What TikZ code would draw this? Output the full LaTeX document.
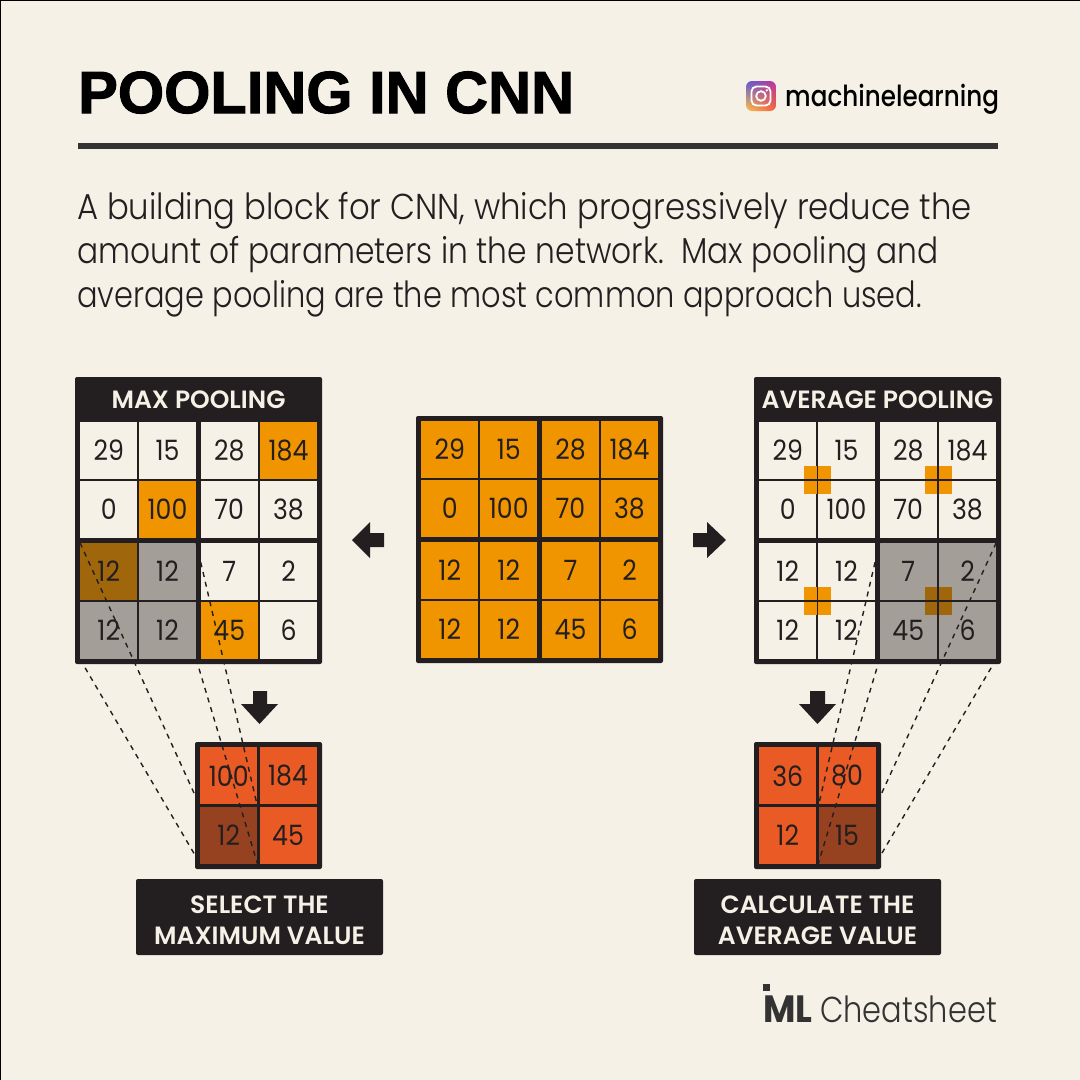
\documentclass[tikz,border=0pt]{standalone}
\usepackage{graphicx}
\usepackage{fontspec}
\usetikzlibrary{shadings}
\setmainfont[FakeStretch=0.9,UprightFont=* Light]{Poppins}
\newfontfamily\titlefont[FakeBold=1.7]{Liberation Sans Bold}
\newfontfamily\cellfont[FakeStretch=0.9]{Poppins}
\newfontfamily\headfont[FakeStretch=0.85,UprightFont=* Medium]{Poppins}
\newfontfamily\bannerfont[FakeStretch=1.0,UprightFont=* SemiBold]{Poppins}
\newfontfamily\brandfont[FakeStretch=0.93,UprightFont=* Bold]{Poppins}

\definecolor{paper}{HTML}{F5F1E7}
\definecolor{ink}{HTML}{231F20}
\definecolor{rulegray}{HTML}{333333}
\definecolor{amber}{HTML}{F09400}
\definecolor{stone}{HTML}{A39E97}
\definecolor{umber}{HTML}{9F660C}
\definecolor{flame}{HTML}{E95A24}
\definecolor{rust}{HTML}{964120}
\definecolor{igblue}{HTML}{5B5AD6}
\definecolor{igpink}{HTML}{C1359A}
\definecolor{igyellow}{HTML}{FDC24A}
\definecolor{igred}{HTML}{F5603A}

\tikzset{
    frame/.style={fill=ink,rounded corners=2pt,inner sep=0pt},
    cell/.style={inner sep=0pt,minimum size=57pt,text=ink,font=\cellfont\fontsize{28}{28}\selectfont},
    plain/.style={cell,fill=paper},
    hot/.style={cell,fill=amber},
    grey/.style={cell,fill=stone},
    dim/.style={cell,fill=umber},
    result/.style={cell,fill=flame},
    resultdim/.style={cell,fill=rust},
    patch/.style={minimum width=27pt,minimum height=28pt,inner sep=0pt},
    seam/.style={ink,line width=1.8pt},
    link/.style={ink,line width=1.4pt,dash pattern=on 5pt off 5pt},
    banner/.style={text=paper,font=\bannerfont\fontsize{25}{31}\selectfont,align=center},
    notebox/.style={frame,minimum width=247pt,minimum height=76pt}
}

\begin{document}
\begin{tikzpicture}[x=1pt,y=-1pt]

    \fill[paper] (0,0) rectangle (1080,1080);
    \useasboundingbox (0,0) rectangle (1080,1080);
    \draw[black,line width=2pt] (0,1080) -- (0,0) -- (1080,0);

    %header
    \node[anchor=base west,inner sep=0pt,font=\titlefont\fontsize{59.5}{59.5}\selectfont] (title) at (78,113) {POOLING IN CNN};
    \fill[rulegray] (78,143) rectangle (998,149);
    \node[anchor=base west,inner sep=0pt,text=black,font=\headfont\fontsize{29}{29}\selectfont] (handle) at (785,106) {machinelearning};

    %icon
    \begin{scope}
        \clip[rounded corners=6pt] (746,81) rectangle (776,111);
        \shade[upper left=igblue,upper right=igpink,lower left=igyellow,lower right=igred] (746,81) rectangle (776,111);
    \end{scope}
    \draw[white,line width=1.8pt,rounded corners=5pt] (751.5,86.5) rectangle (770.5,105.5);
    \draw[white,line width=1.8pt] (761,96) circle (4.8);
    \fill[white] (766.8,90.3) circle (1.3);

    %text
    \node[anchor=base west,inner sep=0pt,align=left,text=ink,font=\fontsize{36}{44}\selectfont] (blurb) at (77,307) {\scalebox{.997}[1]{A building block for CNN, which progressively reduce the}\\\scalebox{.966}[1]{amount of parameters in the network.\ \ Max pooling and}\\\scalebox{.939}[1]{average pooling are the most common approach used.}};

    %max grid
    \node[frame,minimum width=247pt,minimum height=287pt] (maxframe) at (198.5,520.5) {};
    \node[banner] (maxhead) at (198.5,400) {MAX POOLING};
    \node[plain] (m11) at (108.75,450.5) {29};
    \node[plain] (m12) at (167.5,450.5) {15};
    \node[plain] (m13) at (229.25,450.5) {28};
    \node[hot] (m14) at (288.5,450.5) {184};
    \node[plain] (m21) at (108.75,509.5) {0};
    \node[hot] (m22) at (167.5,509.5) {100};
    \node[plain] (m23) at (229.25,509.5) {70};
    \node[plain] (m24) at (288.5,509.5) {38};
    \node[dim] (m31) at (108.75,571.5) {12};
    \node[grey] (m32) at (167.5,571.5) {12};
    \node[plain] (m33) at (229.25,571.5) {7};
    \node[plain] (m34) at (288.5,571.5) {2};
    \node[grey] (m41) at (108.75,630.5) {12};
    \node[grey] (m42) at (167.5,630.5) {12};
    \node[hot] (m43) at (229.25,630.5) {45};
    \node[plain] (m44) at (288.5,630.5) {6};

    %centre grid
    \node[frame,minimum size=247pt] (midframe) at (539.5,539.5) {};
    \node[hot] (c11) at (449.75,449.5) {29};
    \node[hot] (c12) at (508.75,449.5) {15};
    \node[hot] (c13) at (570.5,449.5) {28};
    \node[hot] (c14) at (629.5,449.5) {184};
    \node[hot] (c21) at (449.75,508.5) {0};
    \node[hot] (c22) at (508.75,508.5) {100};
    \node[hot] (c23) at (570.5,508.5) {70};
    \node[hot] (c24) at (629.5,508.5) {38};
    \node[hot] (c31) at (449.75,570.5) {12};
    \node[hot] (c32) at (508.75,570.5) {12};
    \node[hot] (c33) at (570.5,570.5) {7};
    \node[hot] (c34) at (629.5,570.5) {2};
    \node[hot] (c41) at (449.75,629.5) {12};
    \node[hot] (c42) at (508.75,629.5) {12};
    \node[hot] (c43) at (570.5,629.5) {45};
    \node[hot] (c44) at (629.5,629.5) {6};

    %average grid
    \node[frame,minimum width=247pt,minimum height=287pt] (avgframe) at (877.5,520.5) {};
    \node[banner] (avghead) at (877.5,400) {AVERAGE POOLING};
    \node[plain] (a11) at (787.75,450.5) {29};
    \node[plain] (a12) at (846.5,450.5) {15};
    \node[plain] (a13) at (908.25,450.5) {28};
    \node[plain] (a14) at (967.5,450.5) {184};
    \node[plain] (a21) at (787.75,509.5) {0};
    \node[plain] (a22) at (846.5,509.5) {100};
    \node[plain] (a23) at (908.25,509.5) {70};
    \node[plain] (a24) at (967.5,509.5) {38};
    \node[plain] (a31) at (787.75,571.5) {12};
    \node[plain] (a32) at (846.5,571.5) {12};
    \node[grey] (a33) at (908.25,571.5) {7};
    \node[grey] (a34) at (967.5,571.5) {2};
    \node[plain] (a41) at (787.75,630.5) {12};
    \node[plain] (a42) at (846.5,630.5) {12};
    \node[grey] (a43) at (908.25,630.5) {45};
    \node[grey] (a44) at (967.5,630.5) {6};

    %patches
    \node[patch,fill=amber] (p1) at (817.5,480) {};
    \node[patch,fill=amber] (p2) at (938.5,480) {};
    \node[patch,fill=amber] (p3) at (817.5,601) {};
    \node[patch,fill=umber] (p4) at (938.5,601) {};
    \draw[seam] ([yshift=-1pt]a11.south west) -- ([yshift=-1pt]a12.south east);
    \draw[seam] ([yshift=-1pt]a13.south west) -- ([yshift=-1pt]a14.south east);
    \draw[seam] ([yshift=-1pt]a31.south west) -- ([yshift=-1pt]a32.south east);
    \draw[seam] ([yshift=-1pt]a33.south west) -- ([yshift=-1pt]a34.south east);
    \draw[seam] ([xshift=1pt]a11.north east) -- ([xshift=1pt]a21.south east);
    \draw[seam] ([xshift=1pt]a13.north east) -- ([xshift=1pt]a23.south east);
    \draw[seam] ([xshift=1pt]a31.north east) -- ([xshift=1pt]a41.south east);
    \draw[seam] ([xshift=1pt]a33.north east) -- ([xshift=1pt]a43.south east);

    %small grids
    \node[frame,minimum size=127pt] (maxsmall) at (258.5,805.5) {};
    \node[result] (s11) at (228.75,775.75) {100};
    \node[result] (s12) at (288,775.75) {184};
    \node[resultdim] (s21) at (228.75,835) {12};
    \node[result] (s22) at (288,835) {45};
    \node[frame,minimum size=127pt] (avgsmall) at (817.5,805.5) {};
    \node[result] (t11) at (787.75,775.75) {36};
    \node[result] (t12) at (847,775.75) {80};
    \node[result] (t21) at (787.75,835) {12};
    \node[resultdim] (t22) at (847,835) {15};

    %arrows
    \fill[ink] (352,540) -- (370,522) -- (370,533) -- (384,533) -- (384,547) -- (370,547) -- (370,558) -- cycle;
    \fill[ink] (726,540) -- (707,522) -- (707,533) -- (693,533) -- (693,547) -- (707,547) -- (707,558) -- cycle;
    \fill[ink] (259.5,724) -- (241,704) -- (253,704) -- (253,691) -- (267,691) -- (267,704) -- (278,704) -- cycle;
    \fill[ink] (817.5,724) -- (799,704) -- (810,704) -- (810,691) -- (825,691) -- (825,704) -- (836,704) -- cycle;

    %links
    \draw[link] (m31.north west) -- (s21.north west);
    \draw[link] (m41.south west) -- (s21.south west);
    \draw[link] (m32.north east) -- (s21.north east);
    \draw[link] (m42.south east) -- (s21.south east);
    \draw[link] (a33.north west) -- (t22.north west);
    \draw[link] (a43.south west) -- (t22.south west);
    \draw[link] (a34.north east) -- (t22.north east);
    \draw[link] (a44.south east) -- (t22.south east);

    %notes
    \node[notebox] (maxbox) at (259.5,917) {};
    \node[banner] (maxnote) at (259.5,920) {SELECT THE\\MAXIMUM VALUE};
    \node[notebox] (avgbox) at (817.5,917) {};
    \node[banner] (avgnote) at (817.5,920) {CALCULATE THE\\AVERAGE VALUE};

    %brand
    \fill[rulegray] (763,984) rectangle (770,991);
    \node[anchor=base west,inner sep=0pt,text=rulegray,font=\brandfont\fontsize{38}{38}\selectfont] (mlmark) at (763,1022) {ML};
    \node[anchor=base west,inner sep=0pt,text=rulegray,font=\fontsize{36}{36}\selectfont] (brand) at (820,1022) {\scalebox{.94}[1]{Cheatsheet}};

\end{tikzpicture}
\end{document}
